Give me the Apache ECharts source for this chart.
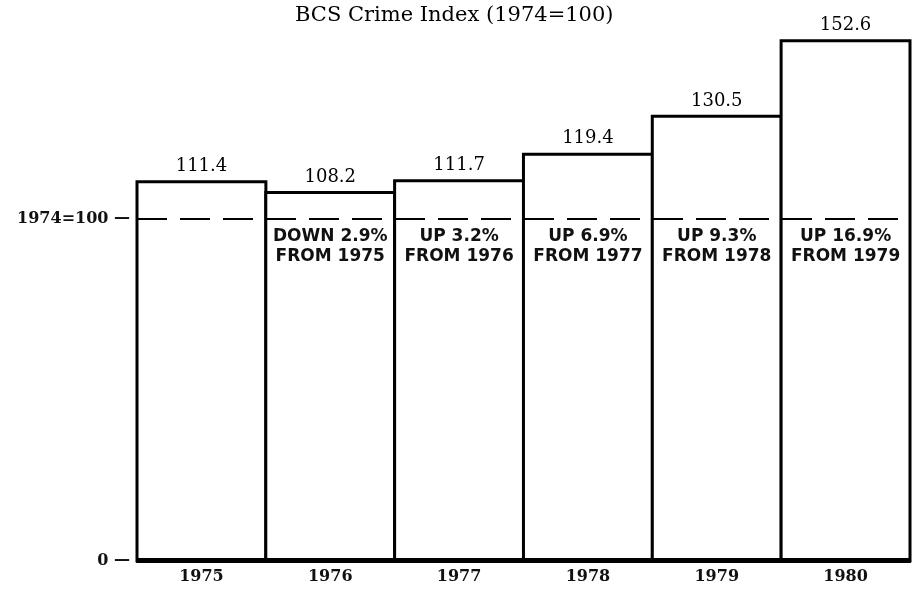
<!DOCTYPE html>
<html>
<head>
<meta charset="utf-8">
<script src="https://cdn.jsdelivr.net/npm/echarts@6/dist/echarts.min.js"></script>
<style>
  html, body { margin: 0; padding: 0; background: #fff; }
  #chart { width: 912px; height: 591px; }
</style>
</head>
<body>
<div id="chart"></div>
<script>
var years = ['1975', '1976', '1977', '1978', '1979', '1980'];
var crimeIndex = [111.4, 108.2, 111.7, 119.4, 130.5, 152.6];
var changeNotes = ['', 'DOWN 2.9%\nFROM 1975', 'UP 3.2%\nFROM 1976', 'UP 6.9%\nFROM 1977', 'UP 9.3%\nFROM 1978', 'UP 16.9%\nFROM 1979'];
var baseValue = 100;
var yTickLabels = { 0: '0 \u2014', 100: '1974=100 \u2014' };

var chart = echarts.init(document.getElementById('chart'));

var noteData = [];
years.forEach(function (y, i) {
    if (changeNotes[i]) {
        noteData.push({ value: [y, baseValue], note: changeNotes[i] });
    }
});

var option = {
    backgroundColor: '#fff',
    animation: false,
    title: {
        text: 'BCS Crime Index (1974=100)',
        left: 290,
        top: 0,
        textStyle: {
            fontFamily: 'DejaVu Serif',
            fontWeight: 'normal',
            fontSize: 21,
            color: '#000'
        }
    },
    grid: {
        left: 137,
        right: 2,
        top: 14,
        bottom: 30
    },
    xAxis: {
        type: 'category',
        data: years,
        axisLine: { show: true, lineStyle: { color: '#000', width: 3 } },
        axisTick: { show: false },
        axisLabel: {
            margin: 8,
            fontFamily: 'DejaVu Serif',
            fontWeight: 'bold',
            fontSize: 16,
            color: '#111'
        }
    },
    yAxis: {
        type: 'value',
        min: 0,
        max: 160,
        interval: 100,
        axisLine: { show: false },
        axisTick: { show: false },
        splitLine: { show: false },
        axisLabel: {
            margin: 7,
            fontFamily: 'DejaVu Serif',
            fontWeight: 'bold',
            fontSize: 16,
            color: '#111',
            formatter: function (v) {
                return yTickLabels[v] || '';
            }
        }
    },
    series: [
        {
            type: 'bar',
            data: crimeIndex,
            // bars touch each other; the border eats a bit of width
            barWidth: '102.4%',
            barCategoryGap: '0%',
            itemStyle: {
                color: '#fff',
                borderColor: '#000',
                borderWidth: 3
            },
            label: {
                show: true,
                position: 'top',
                distance: 5,
                fontFamily: 'DejaVu Serif',
                fontSize: 18,
                color: '#000',
                formatter: function (p) {
                    return p.value.toFixed(1);
                }
            },
            markLine: {
                silent: true,
                symbol: 'none',
                label: { show: false },
                lineStyle: { color: '#000', type: [30, 13], width: 2 },
                data: [{ yAxis: baseValue }]
            }
        },
        {
            type: 'scatter',
            data: noteData,
            symbolSize: 0,
            silent: true,
            z: 5,
            itemStyle: { opacity: 1 },
            label: {
                show: true,
                position: 'bottom',
                distance: 7,
                fontFamily: 'DejaVu Sans',
                fontWeight: 'bold',
                fontSize: 17,
                lineHeight: 20,
                color: '#111',
                formatter: function (p) {
                    return p.data.note;
                }
            }
        }
    ]
};

chart.setOption(option);
</script>
</body>
</html>
